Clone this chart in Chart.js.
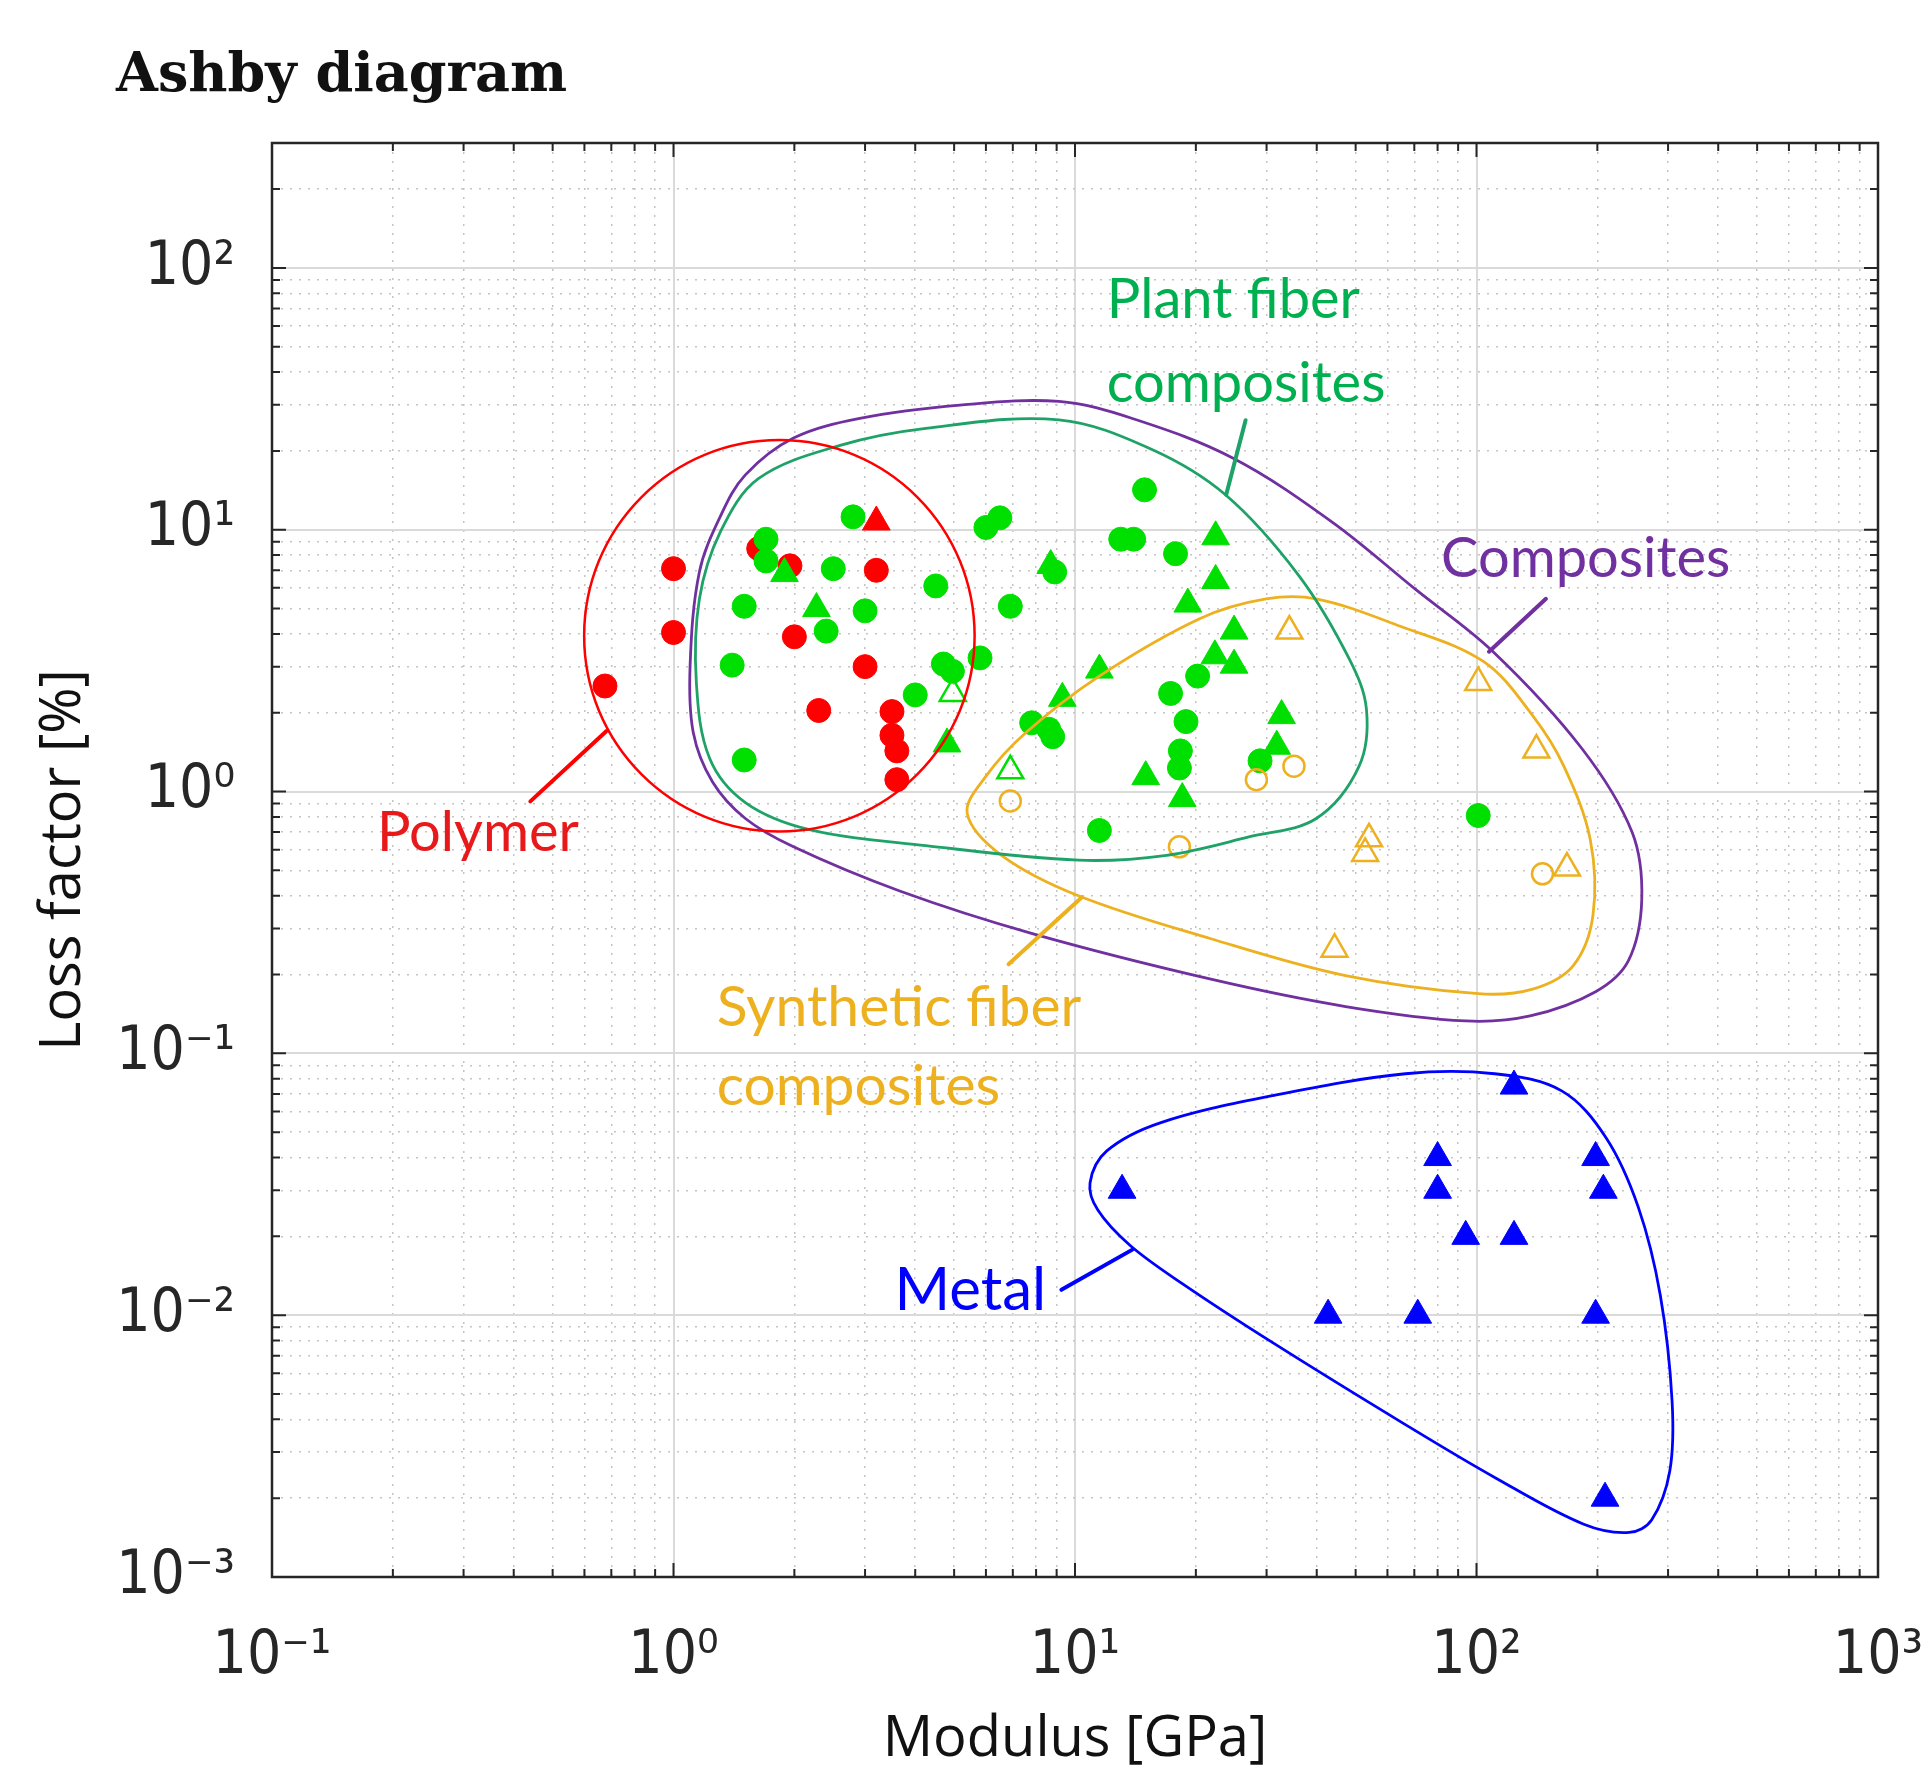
<!DOCTYPE html>
<html>
<head>
<meta charset="utf-8">
<title>Ashby diagram</title>
<script src="https://cdn.jsdelivr.net/npm/chart.js@4.4.1/dist/chart.umd.min.js"></script>
<style>
  html, body { margin: 0; padding: 0; background: #fff; overflow: hidden; }
  canvas { display: block; }
</style>
</head>
<body>
<canvas id="ashby" width="1921" height="1774"></canvas>
<script>
// Ashby diagram: modulus [GPa] vs loss factor [%]

// axis ranges and tick decades
const xRange = [0.1, 1000];
const yRange = [0.001, 300];
const xDecades = [0.1, 1, 10, 100, 1000];
const yDecades = [0.001, 0.01, 0.1, 1, 10, 100];
const minorSteps = [2, 3, 4, 5, 6, 7, 8, 9];

// markers  [modulus, loss factor]
const polymerCircles = [[0.675, 2.53], [1.0, 7.1], [1.0, 4.05], [1.63, 8.47], [1.95, 7.28], [2.0, 3.9], [3.2, 7.0], [3.0, 3.0], [2.3, 2.04], [3.5, 2.02], [3.5, 1.64], [3.6, 1.43], [3.6, 1.11]];
const polymerTriangles = [[3.2, 10.7]];
const plantCircles = [[1.5, 1.32], [1.4, 3.04], [1.5, 5.1], [1.7, 9.2], [1.7, 7.6], [2.8, 11.2], [2.5, 7.1], [2.4, 4.1], [3.0, 4.9], [4.5, 6.1], [4.7, 3.07], [4.95, 2.88], [4.0, 2.34], [5.8, 3.24], [6.0, 10.2], [6.5, 11.1], [6.9, 5.1], [7.8, 1.83], [8.6, 1.73], [8.8, 1.62], [8.9, 6.9], [11.5, 0.71], [14.9, 14.2], [13.0, 9.2], [14.0, 9.2], [17.8, 8.1], [20.2, 2.76], [17.3, 2.37], [18.9, 1.85], [18.3, 1.43], [18.2, 1.23], [28.9, 1.31], [101, 0.81]];
const plantTriangles = [[1.89, 6.8], [2.27, 5.0], [4.8, 1.52], [8.7, 7.3], [9.3, 2.27], [11.5, 2.91], [22.4, 9.4], [22.4, 6.4], [19.1, 5.2], [24.9, 4.1], [22.3, 3.3], [24.9, 3.04], [32.7, 1.95], [31.8, 1.49], [15.0, 1.14], [18.5, 0.94]];
const plantOpenTriangles = [[4.96, 2.37], [6.9, 1.2]];
const syntheticCircles = [[6.9, 0.92], [28.3, 1.11], [35.1, 1.25], [18.2, 0.615], [146, 0.485]];
const syntheticTriangles = [[34.2, 4.1], [101, 2.61], [141, 1.44], [54, 0.66], [52.8, 0.58], [168, 0.51], [44.3, 0.25]];
const metalTriangles = [[13.1, 0.03], [80, 0.04], [80, 0.03], [124, 0.075], [94, 0.02], [124, 0.02], [198, 0.04], [207, 0.03], [42.7, 0.01], [71.4, 0.01], [198, 0.01], [209, 0.002]];

// hand drawn envelopes
const polymerOutline = [[1.836, 22.0], [2.818, 19.31], [4.052, 13.30], [5.166, 7.61], [5.623, 3.937], [5.166, 2.036], [4.052, 1.166], [2.818, 0.8025], [1.836, 0.704], [1.195, 0.8025], [0.8315, 1.166], [0.6521, 2.036], [0.599, 3.937], [0.6521, 7.61], [0.8315, 13.30], [1.195, 19.31]];
const plantOutline = [[4.25, 24.4], [9.12, 26.3], [15.5, 20.3], [23.7, 13.6], [36.1, 6.68], [48.2, 3.21], [53.2, 2.06], [51.0, 1.25], [39.9, 0.789], [27.1, 0.671], [16.9, 0.571], [10.2, 0.547], [4.25, 0.622], [2.18, 0.716], [1.51, 0.908], [1.23, 1.34], [1.14, 2.61], [1.16, 5.44], [1.31, 9.85], [1.63, 15.7], [2.60, 21.0]];
const syntheticOutline = [[5.39, 0.824], [6.56, 0.571], [10.2, 0.400], [21.8, 0.274], [47.2, 0.198], [101, 0.169], [138, 0.176], [174, 0.216], [195, 0.336], [192, 0.656], [165, 1.25], [138, 1.95], [104, 3.14], [64.3, 4.29], [39.9, 5.44], [29.9, 5.44], [20.5, 4.58], [11.5, 2.76], [7.55, 1.68], [5.99, 1.14]];
const compositesOutline = [[5.17, 29.9], [9.12, 30.9], [13.9, 26.6], [24.7, 18.8], [43.7, 10.7], [70.4, 5.93], [110, 3.42], [183, 1.46], [244, 0.700], [258, 0.387], [239, 0.226], [198, 0.172], [136, 0.139], [93.9, 0.133], [47.2, 0.151], [21.8, 0.192], [7.87, 0.286], [3.66, 0.417], [1.99, 0.615], [1.51, 0.789], [1.25, 1.09], [1.12, 1.68], [1.10, 3.04], [1.16, 6.90], [1.31, 11.3], [1.51, 16.2], [1.99, 22.4], [2.91, 26.6]];
const metalOutline = [[10.9, 0.0320], [12.0, 0.0424], [16.3, 0.0543], [31.0, 0.0689], [66.5, 0.0836], [111, 0.0836], [163, 0.0719], [210, 0.0477], [253, 0.0258], [287, 0.0119], [307, 0.00469], [303, 0.00254], [273, 0.00165], [240, 0.00148], [185, 0.00159], [111, 0.00240], [66.5, 0.00382], [31.0, 0.00787], [18.5, 0.0132], [13.7, 0.0185], [11.4, 0.0252]];

// leader lines from the labels to the envelopes
const plantLeader = [[26.6, 26.2], [23.8, 13.6]];
const compositesLeader = [[148.9, 5.45], [107.4, 3.42]];
const polymerLeader = [[0.680, 1.70], [0.440, 0.917]];
const syntheticLeader = [[10.4, 0.395], [6.83, 0.219]];
const metalLeader = [[9.25, 0.0125], [13.9, 0.0178]];

// label texts and their anchors (left end of baseline, in data units)
const labelText = ['Plant fiber', 'composites', 'Composites', 'Polymer', 'Synthetic fiber', 'composites', 'Metal'];
const labelX = [12.0, 12.0, 81.6, 0.1825, 1.281, 1.281, 3.55];
const labelY = [64.4, 30.8, 6.61, 0.593, 0.1269, 0.0636, 0.0105];

const RED = '#ff0000';
const GREEN = '#00e000';
const BLUE = '#0000ff';
const GOLD = '#edb120';
const PURPLE = '#7030a0';
const TEAL = '#1fa267';
const PLANT_TEXT = '#00b050';
const labelColor = [PLANT_TEXT, PLANT_TEXT, PURPLE, '#e8191b', GOLD, GOLD, BLUE];
const labelSize = [56, 56, 56, 56, 57, 57, 60];

const toXY = (arr) => arr.map(p => ({x: p[0], y: p[1]}));

function buildTicks(decades, max) {
    const out = [];
    decades.forEach(d => {
        out.push(d);
        minorSteps.forEach(m => { if (d * m <= max * 1.0001) out.push(d * m); });
    });
    return out.map(v => ({value: v}));
}

function isDecade(v) {
    const l = Math.log10(v);
    return Math.abs(l - Math.round(l)) < 1e-6;
}

const sup = {'-': '\u207B', '0': '\u2070', '1': '\u00B9', '2': '\u00B2', '3': '\u00B3'};
function decadeLabel(v) {
    if (!isDecade(v)) return '';
    const e = String(Math.round(Math.log10(v)));
    return '10' + e.split('').map(c => sup[c]).join('');
}

function markers(label, data, style, radius, fill, stroke, width) {
    return {
        label: label,
        data: toXY(data),
        pointStyle: style,
        pointRadius: radius,
        pointHoverRadius: radius,
        pointBackgroundColor: fill,
        pointBorderColor: stroke,
        pointBorderWidth: width,
        showLine: false
    };
}

function outline(label, data, color, width, closed) {
    return {
        label: label,
        data: toXY(data),
        showLine: true,
        closed: closed,
        tension: closed ? 0.35 : 0,
        borderColor: color,
        borderWidth: width,
        borderCapStyle: 'round',
        pointRadius: 0,
        pointHoverRadius: 0,
        fill: false
    };
}

const gridOpts = {
    drawTicks: false,
    color: (c) => (c.tick && isDecade(c.tick.value)) ? '#dadada' : '#c4c4c4',
    lineWidth: (c) => (c.tick && isDecade(c.tick.value)) ? 2 : 1.5
};
const borderOpts = {
    display: false,
    dash: (c) => (c.tick && !isDecade(c.tick.value)) ? [2, 7] : []
};

const frame = {
    id: 'frame',
    afterLayout(chart) {
        if (chart.titleBlock) chart.titleBlock.left = 116;
    },
    afterDatasetsUpdate(chart) {
        // the envelopes are closed loops
        chart.data.datasets.forEach((ds, i) => {
            const line = chart.getDatasetMeta(i).dataset;
            if (ds.closed && line) {
                line._loop = true;
                line._fullLoop = true;
            }
        });
    },
    afterDatasetsDraw(chart) {
        const {ctx, chartArea: a, scales: {x, y}} = chart;
        ctx.save();
        ctx.strokeStyle = '#262626';
        ctx.lineWidth = 2;
        ctx.beginPath();
        x.ticks.forEach(t => {
            const px = x.getPixelForValue(t.value);
            const len = isDecade(t.value) ? 14 : 8;
            ctx.moveTo(px, a.bottom); ctx.lineTo(px, a.bottom - len);
            ctx.moveTo(px, a.top); ctx.lineTo(px, a.top + len);
        });
        y.ticks.forEach(t => {
            const py = y.getPixelForValue(t.value);
            const len = isDecade(t.value) ? 14 : 8;
            ctx.moveTo(a.left, py); ctx.lineTo(a.left + len, py);
            ctx.moveTo(a.right, py); ctx.lineTo(a.right - len, py);
        });
        ctx.stroke();
        ctx.lineWidth = 2.5;
        ctx.strokeRect(a.left, a.top, a.right - a.left, a.bottom - a.top);

        // region labels
        ctx.textAlign = 'left';
        ctx.textBaseline = 'alphabetic';
        labelText.forEach((txt, i) => {
            ctx.font = labelSize[i] + 'px Lato, "Open Sans", sans-serif';
            ctx.fillStyle = labelColor[i];
            ctx.fillText(txt, x.getPixelForValue(labelX[i]), y.getPixelForValue(labelY[i]));
        });
        ctx.restore();
    }
};

const tickFont = {family: '"Liberation Sans Narrow", "DejaVu Sans Condensed", "Liberation Sans", Arial, sans-serif', size: 60};

new Chart(document.getElementById('ashby'), {
    type: 'scatter',
    data: {
        datasets: [
            outline('Plant fiber leader', plantLeader, TEAL, 4, false),
            outline('Composites leader', compositesLeader, PURPLE, 4, false),
            outline('Polymer leader', polymerLeader, RED, 4, false),
            outline('Synthetic fiber leader', syntheticLeader, GOLD, 4, false),
            outline('Metal leader', metalLeader, BLUE, 4, false),
            outline('Polymer', polymerOutline, RED, 2.5, true),
            outline('Plant fiber composites', plantOutline, TEAL, 2.8, true),
            outline('Synthetic fiber composites', syntheticOutline, GOLD, 2.8, true),
            outline('Composites', compositesOutline, PURPLE, 2.8, true),
            outline('Metal', metalOutline, BLUE, 2.8, true),
            markers('Polymer (triangle)', polymerTriangles, 'triangle', 16, RED, RED, 1),
            markers('Plant fiber (open triangle)', plantOpenTriangles, 'triangle', 15, 'rgba(0,0,0,0)', GREEN, 2.5),
            markers('Synthetic fiber (circle)', syntheticCircles, 'circle', 10.5, 'rgba(0,0,0,0)', GOLD, 2.5),
            markers('Synthetic fiber (triangle)', syntheticTriangles, 'triangle', 15, 'rgba(0,0,0,0)', GOLD, 2.5),
            markers('Plant fiber (triangle)', plantTriangles, 'triangle', 16, GREEN, GREEN, 1),
            markers('Plant fiber (circle)', plantCircles, 'circle', 12, GREEN, GREEN, 1),
            markers('Polymer (circle)', polymerCircles, 'circle', 12, RED, RED, 1),
            markers('Metal (triangle)', metalTriangles, 'triangle', 16, BLUE, BLUE, 1)
        ]
    },
    options: {
        responsive: false,
        animation: false,
        events: [],
        layout: {padding: {left: 0, right: 43, top: 0, bottom: 0}},
        plugins: {
            legend: {display: false},
            tooltip: {enabled: false},
            title: {
                display: true,
                text: 'Ashby diagram',
                align: 'start',
                color: '#111',
                font: {family: '"DejaVu Serif", "Liberation Serif", serif', weight: 'bold', size: 54},
                padding: {top: 45, bottom: 33.2}
            }
        },
        scales: {
            x: {
                type: 'logarithmic',
                position: 'bottom',
                min: xRange[0],
                max: xRange[1],
                afterBuildTicks: (s) => { s.ticks = buildTicks(xDecades, xRange[1]); },
                afterFit: (s) => { s.height = 197; s.paddingLeft = 0; s.paddingRight = 0; },
                grid: gridOpts,
                border: borderOpts,
                ticks: {
                    autoSkip: false,
                    maxRotation: 0,
                    padding: 44,
                    color: '#262626',
                    font: tickFont,
                    callback: (v) => decadeLabel(v)
                },
                title: {
                    display: true,
                    text: 'Modulus [GPa]',
                    color: '#111',
                    font: {family: '"Open Sans", "Noto Sans", sans-serif', size: 56},
                    padding: {top: 0, bottom: 0}
                }
            },
            y: {
                type: 'logarithmic',
                position: 'left',
                min: yRange[0],
                max: yRange[1],
                afterBuildTicks: (s) => { s.ticks = buildTicks(yDecades, yRange[1]); },
                afterFit: (s) => { s.width = 272; s.paddingTop = 0; s.paddingBottom = 0; },
                grid: gridOpts,
                border: borderOpts,
                ticks: {
                    autoSkip: false,
                    padding: 37,
                    color: '#262626',
                    font: tickFont,
                    callback: (v) => decadeLabel(v)
                },
                title: {
                    display: true,
                    text: 'Loss factor [%]',
                    color: '#111',
                    font: {family: '"Open Sans", "Noto Sans", sans-serif', size: 56},
                    padding: {top: 30, bottom: 0}
                }
            }
        }
    },
    plugins: [frame]
});
</script>
</body>
</html>
